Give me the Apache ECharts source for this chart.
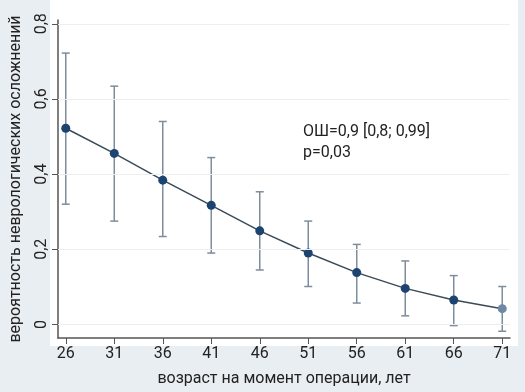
<!DOCTYPE html>
<html>
<head>
<meta charset="utf-8">
<script src="https://cdn.jsdelivr.net/npm/echarts@6/dist/echarts.min.js"></script>
<style>
  html, body { margin: 0; padding: 0; background: #e9eef2; }
  #chart { width: 525px; height: 392px; }
</style>
</head>
<body>
<div id="chart"></div>
<script>
// возраст, вероятность и 95% ДИ
const ages = [26, 31, 36, 41, 46, 51, 56, 61, 66, 71];
const prob = [0.522, 0.455, 0.384, 0.317, 0.249, 0.19, 0.138, 0.096, 0.065, 0.042];
const ciLow = [0.32, 0.275, 0.234, 0.19, 0.145, 0.101, 0.057, 0.023, -0.003, -0.018];
const ciHigh = [0.722, 0.634, 0.54, 0.444, 0.353, 0.275, 0.213, 0.169, 0.13, 0.101];
const yTicks = [0, 0.2, 0.4, 0.6, 0.8];

const font = '"Liberation Sans Narrow", "Roboto", sans-serif';
const chart = echarts.init(document.getElementById('chart'), null, { renderer: 'canvas' });

const option = {
  backgroundColor: '#e9eef2',
  animation: false,
  graphic: [
    { type: 'rect', shape: { x: 50, y: 0, width: 468, height: 346 }, style: { fill: '#ffffff' }, z: -10 },
    {
      type: 'text', left: 303, top: 121, z: 10,
      style: { text: 'ОШ=0,9 [0,8; 0,99]\np=0,03', font: '16px ' + font, fill: '#222', lineHeight: 21 }
    }
  ],
  grid: { left: 57, right: 15, top: 20, bottom: 46 },
  xAxis: {
    type: 'value', min: 25.2, max: 71.8,
    name: 'возраст на момент операции, лет',
    nameLocation: 'middle', nameGap: 33,
    nameTextStyle: { fontFamily: font, fontSize: 16, color: '#222' },
    axisLine: { show: true, onZero: false, lineStyle: { color: '#555', width: 1.5 } },
    axisTick: { show: true, customValues: ages, length: 6, lineStyle: { color: '#555' } },
    axisLabel: { customValues: ages, fontFamily: font, fontSize: 16, color: '#222', margin: 8 },
    splitLine: { show: false }
  },
  yAxis: {
    type: 'value', min: -0.036, max: 0.81,
    name: 'вероятность неврологических осложнений',
    nameLocation: 'middle', nameGap: 34, nameRotate: 90,
    nameTextStyle: { fontFamily: font, fontSize: 16, color: '#222' },
    axisLine: { show: true, onZero: false, lineStyle: { color: '#555', width: 1.5 } },
    axisTick: { show: true, customValues: yTicks, length: 6, lineStyle: { color: '#555' } },
    axisLabel: {
      customValues: yTicks, rotate: 90, fontFamily: font, fontSize: 16, color: '#222', margin: 8,
      formatter: v => String(Math.round(v * 10) / 10).replace('.', ',')
    },
    splitLine: { show: false }
  },
  series: [
    {
      type: 'custom',
      data: ages.map((a, i) => [a, ciLow[i], ciHigh[i]]),
      renderItem: (params, api) => {
        const lo = api.coord([api.value(0), api.value(1)]);
        const hi = api.coord([api.value(0), api.value(2)]);
        const w = 4;
        const st = { stroke: '#7d8d9c', lineWidth: 1.5 };
        return {
          type: 'group',
          children: [
            { type: 'line', shape: { x1: lo[0], y1: lo[1], x2: hi[0], y2: hi[1] }, style: st },
            { type: 'line', shape: { x1: lo[0] - w, y1: lo[1], x2: lo[0] + w, y2: lo[1] }, style: st },
            { type: 'line', shape: { x1: hi[0] - w, y1: hi[1], x2: hi[0] + w, y2: hi[1] }, style: st }
          ]
        };
      },
      z: 2
    },
    {
      type: 'line',
      data: ages.map((a, i) => {
        const d = { value: [a, prob[i]] };
        if (i === ages.length - 1) d.itemStyle = { color: '#6f88a3' };
        return d;
      }),
      symbol: 'circle', symbolSize: 9,
      itemStyle: { color: '#1d4470' },
      lineStyle: { color: '#3b4a58', width: 1.5 },
      markLine: {
        silent: true, symbol: 'none', label: { show: false },
        lineStyle: { color: '#eeeeee', type: 'solid', width: 1 },
        data: yTicks.map(v => ({ yAxis: v }))
      },
      z: 3
    }
  ]
};

chart.setOption(option);
</script>
</body>
</html>
